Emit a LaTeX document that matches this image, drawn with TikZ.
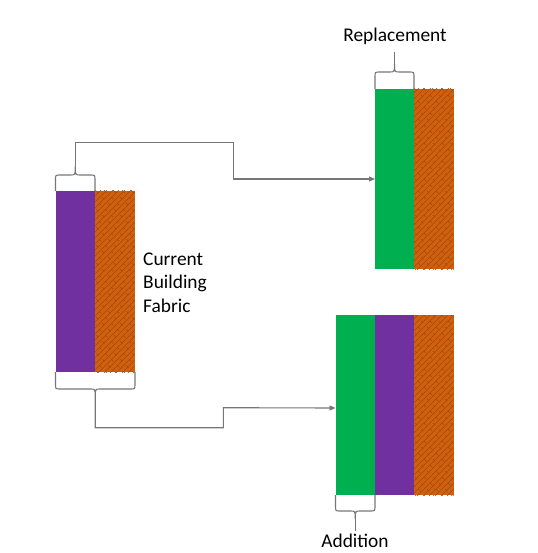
\documentclass[tikz,border=0pt]{standalone}
\usepackage{fontspec}
\setmainfont{Carlito}
\usetikzlibrary{arrows.meta}
\definecolor{fgreen}{HTML}{00B050}
\definecolor{fpurple}{HTML}{7030A0}
\definecolor{forange}{HTML}{D0600F}
\definecolor{fbrick}{HTML}{A04A0A}
\definecolor{lgray}{HTML}{767676}
\tikzset{
  layer/.style={draw=none, inner sep=0pt, outer sep=0pt, anchor=north west, minimum width=39.5pt},
  greenlayer/.style={layer, fill=fgreen},
  purplelayer/.style={layer, fill=fpurple},
  bricklayer/.style={layer, fill=forange, path picture={
      \foreach \k in {-260,-254,...,260}{
        \draw[fbrick, line width=0.55pt] ([xshift=\k pt]path picture bounding box.south west) -- ++(200pt,200pt);
        \draw[fbrick, line width=0.55pt] ([xshift=\k pt]path picture bounding box.south west) -- ++(-200pt,-200pt);
      }
      \foreach \k in {-260,-251,...,260}{
        \draw[fbrick, line width=0.45pt, dash pattern=on 3pt off 5.5pt] ([xshift=\k pt]path picture bounding box.north west) -- ++(200pt,-200pt);
        \draw[fbrick, line width=0.45pt, dash pattern=on 3pt off 5.5pt] ([xshift=\k pt]path picture bounding box.north west) -- ++(-200pt,200pt);
      }
  }},
  bracket/.style={draw=lgray, line width=1.1pt},
  link/.style={draw=lgray, line width=1.1pt, -{Triangle[length=6pt,width=5pt]}},
  lbl/.style={inner sep=0pt, font=\fontsize{19.4}{23.3}\selectfont}
}
\begin{document}
\begin{tikzpicture}[x=1pt,y=-1pt]
\useasboundingbox (0,0) rectangle (537,553);
% current building fabric
\node[purplelayer, minimum height=181pt] (cp) at (55.5,191) {};
\node[bricklayer, minimum height=181pt] (cb) at (95,191) {};
% replacement
\node[greenlayer, minimum height=180pt] (rg) at (375,89) {};
\node[bricklayer, minimum height=180pt] (rb) at (414,89) {};
% addition
\node[greenlayer, minimum height=180pt] (ag) at (335.5,315) {};
\node[purplelayer, minimum height=180pt] (ap) at (375,315) {};
\node[bricklayer, minimum height=180pt] (ab) at (414,315) {};
% labels
\node[lbl, anchor=base west] (t1) at (143,265.5) {Current};
\node[lbl, anchor=base west] (t2) at (143,288.8) {Building};
\node[lbl, anchor=base west] (t3) at (143,312.1) {Fabric};
\node[lbl, anchor=base] (rl) at (395,41.7) {Replacement};
\node[lbl, anchor=base] (al) at (355,547.8) {Addition};
% brace coordinates
\coordinate (b1) at (75.25,167);
\coordinate (b2) at (95.25,397);
\coordinate (b3) at (394.5,64);
\coordinate (b4) at (355.25,519);
\coordinate (e2) at (335.5,408);
% braces
\draw[bracket] (55.5,191) -- (55.5,180) .. controls (55.5,175) .. (60.5,175) -- (70.25,175) .. controls (75.25,175) .. (b1) .. controls (75.25,175) .. (80.25,175) -- (90,175) .. controls (95,175) .. (95,180) -- (95,191);
\draw[bracket] (55.5,372) -- (55.5,384) .. controls (55.5,389) .. (60.5,389) -- (90.25,389) .. controls (95.25,389) .. (b2) .. controls (95.25,389) .. (100.25,389) -- (130,389) .. controls (135,389) .. (135,384) -- (135,372);
\draw[bracket] (375,89) -- (375,77) .. controls (375,72) .. (380,72) -- (389.5,72) .. controls (394.5,72) .. (b3) .. controls (394.5,72) .. (399.5,72) -- (409,72) .. controls (414,72) .. (414,77) -- (414,89);
\draw[bracket] (335.5,495) -- (335.5,506) .. controls (335.5,511) .. (340.5,511) -- (350.25,511) .. controls (355.25,511) .. (b4) .. controls (355.25,511) .. (360.25,511) -- (370,511) .. controls (375,511) .. (375,506) -- (375,495);
\draw[bracket] (b3) -- ++(0,-12);
\draw[bracket] (b4) -- ++(0,12);
% connectors
\draw[link] (b1) -- (75.25,142.3) -- (233.3,142.3) -- (233.3,179) -- (rg.west);
\draw[link] (b2) -- (95.25,427.7) -- (223.3,427.7) -- (223.3,407.7) -- (e2);
\end{tikzpicture}
\end{document}
